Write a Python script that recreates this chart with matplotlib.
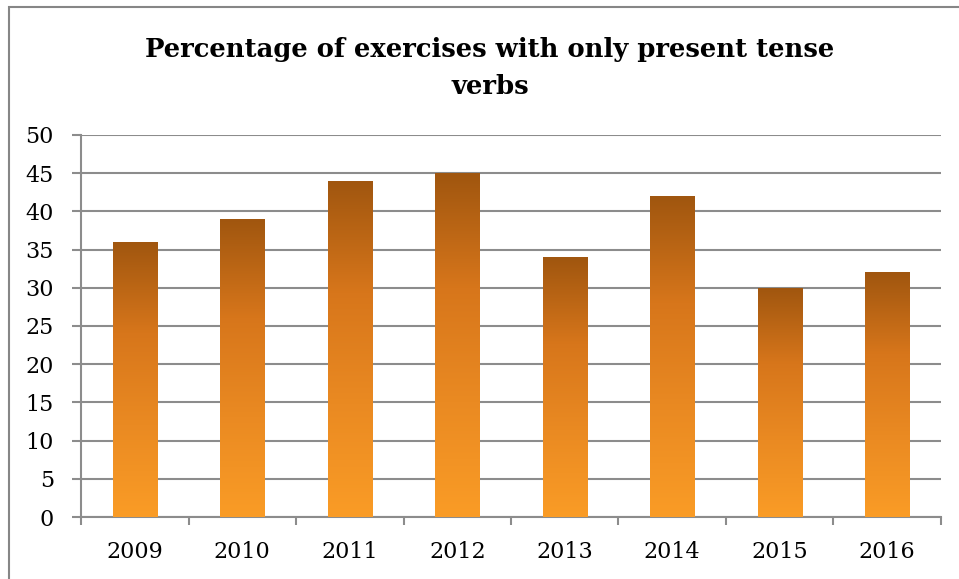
import matplotlib.pyplot as plt
import matplotlib.patches as mpatches
from matplotlib.colors import LinearSegmentedColormap
import numpy as np

# data
years = ['2009', '2010', '2011', '2012', '2013', '2014', '2015', '2016']
values = [36, 39, 44, 45, 34, 42, 30, 32]

plt.rcParams['font.family'] = 'DejaVu Serif'

grid_col = '#8c8c8c'
grad = LinearSegmentedColormap.from_list(
    'bar_grad', ['#fa9c26', '#ea8a22', '#d7761b', '#a0560f'])

fig = plt.figure(figsize=(9.59, 5.79), dpi=100)
ax = fig.add_axes([0.0845, 0.107, 0.8967, 0.660])

x = np.arange(len(years))
bars = ax.bar(x, values, width=0.41, color='none', edgecolor='none', zorder=3)

# vertical gradient inside each bar
g = np.linspace(0, 1, 256).reshape(-1, 1)
for b in bars:
    x0, w, h = b.get_x(), b.get_width(), b.get_height()
    im = ax.imshow(g, cmap=grad, origin='lower', aspect='auto',
                   extent=[x0, x0 + w, 0, h], zorder=3)
    im.set_clip_path(b)

ax.set_xlim(-0.5, len(years) - 0.5)
ax.set_ylim(0, 50)
ax.set_yticks(np.arange(0, 51, 5))
ax.set_xticks(x)
ax.set_xticklabels(years)
ax.set_xticks(np.arange(-0.5, len(years)), minor=True)

ax.yaxis.grid(True, color=grid_col, lw=1.5, zorder=0)
ax.set_axisbelow(True)
for s in ['top', 'right']:
    ax.spines[s].set_visible(False)
for s in ['left', 'bottom']:
    ax.spines[s].set_color(grid_col)
    ax.spines[s].set_linewidth(1.5)

ax.tick_params(axis='y', length=6.5, width=1.5, color=grid_col,
               labelsize=16, pad=13)
ax.tick_params(axis='x', which='major', length=0, labelsize=16, pad=17)
ax.tick_params(axis='x', which='minor', length=6, width=1.5, color=grid_col)

fig.text(0.511, 0.9016, 'Percentage of exercises with only present tense',
         ha='center', va='baseline', fontsize=18.6, fontweight='bold')
fig.text(0.511, 0.8377, 'verbs', ha='center', va='baseline',
         fontsize=18.6, fontweight='bold')

# chart frame (right and bottom edges run off the canvas)
fig.patches.append(mpatches.Rectangle((0.0094, -0.05), 1.05, 1.038,
                   transform=fig.transFigure, fill=False,
                   edgecolor='#868686', lw=1.5))

fig.savefig('out.png', dpi=100)
